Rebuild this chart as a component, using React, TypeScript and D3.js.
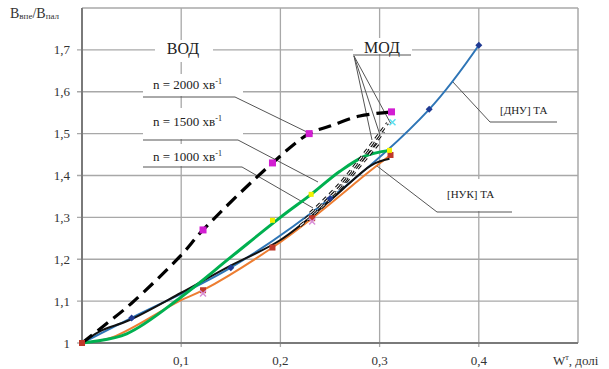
import React from "react";
import * as d3 from "d3";

type P = [number, number];

const xTicks = [0.1, 0.2, 0.3, 0.4];
const xTickLabels = ["0,1", "0,2", "0,3", "0,4"];
const yTicks = [1, 1.1, 1.2, 1.3, 1.4, 1.5, 1.6, 1.7];
const yTickLabels = ["1", "1,1", "1,2", "1,3", "1,4", "1,5", "1,6", "1,7"];

// [ДНУ] ТА (blue)
const dnuCurve: P[] = [[0, 1], [0.05, 1.06], [0.15, 1.18], [0.25, 1.345], [0.35, 1.558], [0.4, 1.711]];
const dnuMarkers: P[] = [[0.05, 1.06], [0.15, 1.18], [0.25, 1.345], [0.35, 1.558], [0.4, 1.711]];
// n = 2000 (black dashed)
const n2000Curve: P[] = [[0, 1], [0.023, 1.043], [0.05, 1.095], [0.1, 1.21], [0.122, 1.27], [0.192, 1.43], [0.229, 1.5], [0.25, 1.518], [0.28, 1.542], [0.312, 1.552]];
const n2000Markers: P[] = [[0.122, 1.27], [0.192, 1.43], [0.229, 1.5], [0.312, 1.552]];
// n = 1500 (green)
const n1500Curve: P[] = [[0, 1], [0.045, 1.022], [0.1, 1.11], [0.15, 1.205], [0.2, 1.3], [0.231, 1.355], [0.26, 1.41], [0.285, 1.446], [0.31, 1.46]];
const n1500Markers: P[] = [[0.192, 1.293], [0.231, 1.355], [0.31, 1.46]];
// n = 1000 (black solid)
const n1000Curve: P[] = [[0, 1], [0.018, 1.028], [0.048, 1.055], [0.1, 1.12], [0.146, 1.18], [0.2, 1.246], [0.25, 1.34], [0.292, 1.425], [0.31, 1.44]];
// [НУК] ТА (orange)
const nukCurve: P[] = [[0, 1], [0.031, 1.014], [0.098, 1.1], [0.122, 1.126], [0.192, 1.228], [0.232, 1.298], [0.29, 1.41], [0.311, 1.449]];
const nukMarkers: P[] = [[0, 1], [0.122, 1.126], [0.192, 1.228], [0.232, 1.298], [0.311, 1.449]];
// МОД (double dashed)
const mod1: P[] = [[0.22, 1.28], [0.25, 1.343], [0.3, 1.48]];
const mod2: P[] = [[0.225, 1.295], [0.255, 1.36], [0.304, 1.505]];
const mod3: P[] = [[0.23, 1.31], [0.26, 1.38], [0.308, 1.525]];
const crossPink: P[] = [[0.122, 1.118], [0.232, 1.29]];
const crossCyan: P[] = [[0.313, 1.527]];

const W = 609, H = 369;
const x = d3.scaleLinear().domain([0, 0.5]).range([82, 578]);
const y = d3.scaleLinear().domain([1, 1.8]).range([343, 8]);

const line = d3.line<P>().x(d => x(d[0])).y(d => y(d[1])).curve(d3.curveCatmullRom.alpha(0.5));

const FONT = "Liberation Serif";
const GRID = "#a8a8a8";
const LEAD = "#555";

export default function App() {
  const sq = (p: P, c: string, s = 6, k = "") => (
    <rect key={k} x={x(p[0]) - s / 2} y={y(p[1]) - s / 2} width={s} height={s} fill={c} />
  );
  const diamond = (p: P, c: string, k: string) => {
    const cx = x(p[0]), cy = y(p[1]);
    return <path key={k} d={`M${cx},${cy - 3.5}L${cx + 3.5},${cy}L${cx},${cy + 3.5}L${cx - 3.5},${cy}Z`} fill={c} />;
  };
  const cross = (p: P, c: string, k: string) => {
    const cx = x(p[0]), cy = y(p[1]);
    return <path key={k} d={`M${cx - 3},${cy - 3}L${cx + 3},${cy + 3}M${cx + 3},${cy - 3}L${cx - 3},${cy + 3}`} stroke={c} strokeWidth={1.5} />;
  };
  return (
    <svg width={W} height={H} style={{ position: "absolute", left: 0, top: 0, background: "#fff" }}>
      <g fontFamily={FONT}>
      {/* grid */}
      {yTicks.slice(1).map(v => (
        <line key={"h" + v} x1={77} x2={x(0.5)} y1={y(v)} y2={y(v)} stroke={GRID} strokeWidth={1.3} />
      ))}
      <line x1={77} x2={82} y1={y(1)} y2={y(1)} stroke={GRID} strokeWidth={1.3} />
      {xTicks.map(v => (
        <line key={"v" + v} x1={x(v)} x2={x(v)} y1={y(1.8)} y2={347} stroke={GRID} strokeWidth={1.3} />
      ))}
      <line x1={x(0)} x2={x(0.5)} y1={y(1.8)} y2={y(1.8)} stroke={GRID} strokeWidth={1.5} />
      <line x1={x(0.5)} x2={x(0.5)} y1={y(1.8)} y2={y(1)} stroke={GRID} strokeWidth={1.5} />
      <line x1={x(0)} x2={x(0.5)} y1={y(1)} y2={y(1)} stroke="#7a7a7a" strokeWidth={2} />
      <line x1={x(0)} x2={x(0)} y1={y(1.8)} y2={y(1)} stroke="#7a7a7a" strokeWidth={2} />

      {/* label boxes */}
      <rect x={155} y={40} width={58} height={22} fill="#fff" />
      <rect x={353} y={38} width={59} height={16} fill="#fff" />
      <rect x={143} y={74} width={100} height={22} fill="#fff" />
      <rect x={143} y={108} width={100} height={31} fill="#fff" />
      <rect x={143} y={144} width={100} height={22} fill="#fff" />
      <rect x={440} y={179} width={72} height={32} fill="#fff" />

      {/* tick labels */}
      {yTicks.map((v, i) => (
        <text key={"yl" + v} x={70} y={y(v) + 4.5} textAnchor="end" fontSize={13} fill="#333">{yTickLabels[i]}</text>
      ))}
      {xTicks.map((v, i) => (
        <text key={"xl" + v} x={x(v)} y={365} textAnchor="middle" fontSize={13} fill="#333">{xTickLabels[i]}</text>
      ))}
      <text x={553} y={365} fontSize={13} fill="#333">W<tspan fontSize={8} dy={-5}>т</tspan><tspan dy={5}>, долі</tspan></text>
      <text x={10} y={18} fontSize={14} fill="#333">B<tspan fontSize={9} dy={1}>впе</tspan><tspan dy={-1}>/B</tspan><tspan fontSize={9} dy={1}>пал</tspan></text>

      {/* annotation texts */}
      <text x={183} y={54} textAnchor="middle" fontSize={16} fill="#222">ВОД</text>
      <text x={382} y={53} textAnchor="middle" fontSize={16} fill="#222">МОД</text>
      <line x1={353} x2={411} y1={55} y2={55} stroke={LEAD} strokeWidth={1} />
      <line x1={354} y1={56} x2={372} y2={140} stroke={LEAD} strokeWidth={1} />
      <line x1={354} y1={56} x2={380} y2={135} stroke={LEAD} strokeWidth={1} />
      <line x1={354} y1={56} x2={391} y2={124} stroke={LEAD} strokeWidth={1} />

      <text x={153} y={89} fontSize={13} fill="#222">n = 2000 хв<tspan fontSize={8} dy={-5}>-1</tspan></text>
      <text x={153} y={126} fontSize={13} fill="#222">n = 1500 хв<tspan fontSize={8} dy={-5}>-1</tspan></text>
      <text x={153} y={161} fontSize={13} fill="#222">n = 1000 хв<tspan fontSize={8} dy={-5}>-1</tspan></text>
      <polyline points="143,97 235,97 311,134" fill="none" stroke={LEAD} strokeWidth={1} />
      <polyline points="143,140 238,140 318,182" fill="none" stroke={LEAD} strokeWidth={1} />
      <polyline points="143,167 242,167 313,208" fill="none" stroke={LEAD} strokeWidth={1} />

      <text x={500} y={114} fontSize={11} fill="#222">[ДНУ] ТА</text>
      <polyline points="557,122 490,122 452,81" fill="none" stroke={LEAD} strokeWidth={1} />
      <text x={447} y={198} fontSize={11} fill="#222">[НУК] ТА</text>
      <polyline points="512,212 437,212 377,166" fill="none" stroke={LEAD} strokeWidth={1} />

      {/* curves */}
      <path d={line(nukCurve) || ""} fill="none" stroke="#ed7d31" strokeWidth={2} />
      <path d={line(dnuCurve) || ""} fill="none" stroke="#2e75b6" strokeWidth={2} />
      <path d={line(n1000Curve) || ""} fill="none" stroke="#111" strokeWidth={2} />
      <path d={line(n1500Curve) || ""} fill="none" stroke="#00b050" strokeWidth={3} />
      <path d={line(n2000Curve) || ""} fill="none" stroke="#000" strokeWidth={3.2} strokeDasharray="13,7" />
      {[mod1, mod2, mod3].map((m, i) => (
        <g key={"mod" + i}>
          <path d={line(m) || ""} fill="none" stroke="#111" strokeWidth={3.2} strokeDasharray="5,4" />
          <path d={line(m) || ""} fill="none" stroke="#fff" strokeWidth={1.1} strokeDasharray="5,4" />
        </g>
      ))}

      {/* markers */}
      {nukMarkers.map((p, i) => sq(p, "#c0392b", 6, "nm" + i))}
      {n1500Markers.map((p, i) => sq(p, "#f2f200", 5, "gm" + i))}
      {n2000Markers.map((p, i) => sq(p, "#d21ed2", 7, "mm" + i))}
      {dnuMarkers.map((p, i) => diamond(p, "#1f3a93", "bm" + i))}
      {crossPink.map((p, i) => cross(p, "#d88fd8", "cp" + i))}
      {crossCyan.map((p, i) => cross(p, "#5fe0f0", "cc" + i))}
      </g>
    </svg>
  );
}
